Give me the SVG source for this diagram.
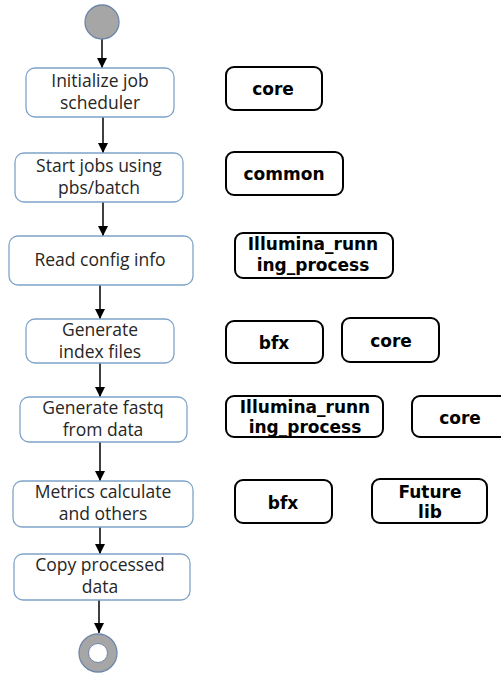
<svg xmlns="http://www.w3.org/2000/svg" width="501" height="674" viewBox="0 0 501 674">
<style>
.step{fill:#fff;stroke:#7fa3c9;stroke-width:1.3}
.lib{fill:#fff;stroke:#000;stroke-width:2}
.st{font-family:"Open Sans","Liberation Sans",sans-serif;font-size:17.5px;fill:#262626;text-anchor:middle}
.lt{font-family:"DejaVu Sans","Liberation Sans",sans-serif;font-size:17px;font-weight:bold;fill:#000;text-anchor:middle}
.conn{stroke:#000;stroke-width:1.5;fill:none;marker-end:url(#ah)}
</style>
<defs>
<marker id="ah" viewBox="0 0 10 10" refX="10" refY="5" markerWidth="10" markerHeight="10" markerUnits="userSpaceOnUse" orient="auto">
<path d="M0,0 L10,5 L0,10 z" fill="#000"/>
</marker>
</defs>
<rect width="501" height="674" fill="#fff"/>
<g id="connectors">
<line class="conn" x1="102" y1="39" x2="102" y2="68"/>
<line class="conn" x1="103" y1="117" x2="103" y2="153"/>
<line class="conn" x1="103" y1="202" x2="103" y2="236"/>
<line class="conn" x1="100" y1="285" x2="100" y2="319"/>
<line class="conn" x1="100" y1="363" x2="100" y2="397"/>
<line class="conn" x1="100" y1="442" x2="100" y2="481"/>
<line class="conn" x1="100" y1="527" x2="100" y2="554"/>
<line class="conn" x1="99" y1="600" x2="99" y2="633"/>
</g>
<g id="start"><circle cx="102" cy="22" r="17" fill="#a6a6a6" stroke="#6f86a8" stroke-width="1.3"/></g>
<g id="end"><circle cx="98" cy="653" r="19" fill="#a6a6a6" stroke="#6f86a8" stroke-width="1.3"/><circle cx="98" cy="653" r="9.5" fill="#fff" stroke="#6f86a8" stroke-width="1"/></g>
<g id="s1"><rect class="step" x="26" y="68" width="148" height="49" rx="9"/><text class="st" x="100" y="87">Initialize job</text><text class="st" x="100" y="109">scheduler</text></g>
<g id="s2"><rect class="step" x="15" y="153" width="168" height="49" rx="9"/><text class="st" x="99" y="172">Start jobs using</text><text class="st" x="99" y="194">pbs/batch</text></g>
<g id="s3"><rect class="step" x="9" y="236" width="184" height="49" rx="9"/><text class="st" x="100" y="266">Read config info</text></g>
<g id="s4"><rect class="step" x="26" y="319" width="148" height="44" rx="9"/><text class="st" x="100" y="336">Generate</text><text class="st" x="100" y="358">index files</text></g>
<g id="s5"><rect class="step" x="20" y="397" width="167" height="45" rx="9"/><text class="st" x="103" y="414">Generate fastq</text><text class="st" x="103" y="436">from data</text></g>
<g id="s6"><rect class="step" x="13" y="481" width="180" height="46" rx="9"/><text class="st" x="103" y="498">Metrics calculate</text><text class="st" x="103" y="520">and others</text></g>
<g id="s7"><rect class="step" x="14" y="554" width="176" height="46" rx="9"/><text class="st" x="100" y="571">Copy processed</text><text class="st" x="100" y="593">data</text></g>
<g id="l1"><rect class="lib" x="226" y="67" width="96" height="43" rx="8"/><text class="lt" x="273" y="95">core</text></g>
<g id="l2"><rect class="lib" x="226" y="152" width="117" height="43" rx="8"/><text class="lt" x="284" y="180">common</text></g>
<g id="l3"><rect class="lib" x="235" y="233" width="158" height="45" rx="8"/><text class="lt" x="313" y="250">Illumina_runn</text><text class="lt" x="313" y="271">ing_process</text></g>
<g id="l4"><rect class="lib" x="226" y="321" width="97" height="42" rx="8"/><text class="lt" x="274" y="349">bfx</text></g>
<g id="l5"><rect class="lib" x="342" y="318" width="97" height="44" rx="8"/><text class="lt" x="391" y="347">core</text></g>
<g id="l6"><rect class="lib" x="226" y="396" width="157" height="41" rx="8"/><text class="lt" x="305" y="413">Illumina_runn</text><text class="lt" x="305" y="433">ing_process</text></g>
<g id="l7"><rect class="lib" x="412" y="396" width="96" height="41" rx="8"/><text class="lt" x="460" y="424">core</text></g>
<g id="l8"><rect class="lib" x="235" y="480" width="97" height="43" rx="8"/><text class="lt" x="283" y="509">bfx</text></g>
<g id="l9"><rect class="lib" x="372" y="479" width="115" height="44" rx="8"/><text class="lt" x="430" y="498">Future</text><text class="lt" x="430" y="518">lib</text></g>
</svg>
